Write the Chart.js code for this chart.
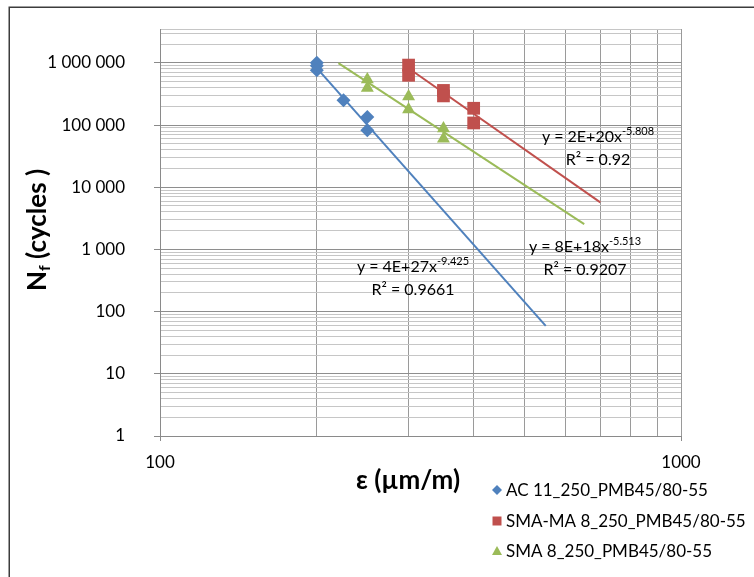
<!DOCTYPE html>
<html>
<head>
<meta charset="utf-8">
<script src="https://cdn.jsdelivr.net/npm/chart.js@4/dist/chart.umd.min.js"></script>
<style>
  html, body { margin: 0; padding: 0; background: #fff; }
  #wrap { width: 754px; height: 577px; position: relative; }
</style>
</head>
<body>
<div id="wrap"><canvas id="fatigueChart" width="754" height="577"></canvas></div>
<script>
// measured specimens: strain (µm/m) and cycles to failure
const acStrain = [200, 200, 200, 225, 250, 250];
const acCycles = [1000000, 900000, 760000, 250000, 135000, 82500];
const smaMaStrain = [300, 300, 350, 350, 400, 400];
const smaMaCycles = [920000, 630000, 360000, 294000, 186000, 108000];
const smaStrain = [250, 250, 300, 300, 350, 350];
const smaCycles = [540000, 395000, 288000, 178000, 88000, 60000];

// power trendlines (straight on log-log), end points
const acTrendStrain = [200, 550];
const acTrendCycles = [822000, 59];
const smaMaTrendStrain = [300, 700];
const smaMaTrendCycles = [820000, 5700];
const smaTrendStrain = [220, 652];
const smaTrendCycles = [990000, 2550];

const seriesNames = ['AC 11_250_PMB45/80-55', 'SMA-MA 8_250_PMB45/80-55', 'SMA 8_250_PMB45/80-55'];
const seriesColors = ['#4F81BD', '#C0504D', '#9BBB59'];
const seriesMarkers = ['rectRot', 'rect', 'triangle'];

const equations = [
  ['y = 2E+20x', '-5.808', 'R² = 0.92'],
  ['y = 8E+18x', '-5.513', 'R² = 0.9207'],
  ['y = 4E+27x', '-9.425', 'R² = 0.9661']
];

const xGridValues = [100, 200, 300, 400, 500, 600, 700, 800, 900, 1000];
const xTickLabels = ['100', '1000'];
const yTickValues = [1, 10, 100, 1000, 10000, 100000, 1000000];
const yTickLabels = ['1', '10', '100', '1 000', '10 000', '100 000', '1 000 000'];
const yMax = 3500000;

const toPoints = (xs, ys) => xs.map((x, i) => ({ x: x, y: ys[i] }));
const isPow10 = v => Math.abs(Math.log10(v) - Math.round(Math.log10(v))) < 1e-9;
const FONT = 'Lato, "Open Sans", sans-serif';

function trendSet(xs, ys, color) {
  return {
    data: toPoints(xs, ys), showLine: true, borderColor: color, borderWidth: 2,
    pointRadius: 0, pointHoverRadius: 0, fill: false, order: 2
  };
}
function markerSet(i, xs, ys, radius) {
  return {
    label: seriesNames[i], data: toPoints(xs, ys), showLine: false,
    pointStyle: seriesMarkers[i], pointRadius: radius, pointHoverRadius: radius,
    backgroundColor: seriesColors[i], borderColor: seriesColors[i], borderWidth: 0, order: 1
  };
}

const overlay = {
  id: 'overlay',
  afterDraw(chart) {
    const ctx = chart.ctx;
    ctx.save();
    // outer frame
    ctx.strokeStyle = '#3c3c3c';
    ctx.lineWidth = 1.5;
    ctx.strokeRect(9.25, 7.25, 800, 600);

    ctx.fillStyle = '#000';
    ctx.textBaseline = 'middle';

    // y axis title with subscript
    ctx.save();
    ctx.translate(38, 230);
    ctx.rotate(-Math.PI / 2);
    ctx.font = 'bold 26px ' + FONT;
    const wN = ctx.measureText('N').width;
    const rest = ' (cycles )';
    const wR = ctx.measureText(rest).width;
    ctx.font = 'bold 16px ' + FONT;
    const wF = ctx.measureText('f').width;
    let sx = -(wN + wF + wR) / 2;
    ctx.textAlign = 'left';
    ctx.font = 'bold 26px ' + FONT;
    ctx.fillText('N', sx, 0);
    ctx.font = 'bold 16px ' + FONT;
    ctx.fillText('f', sx + wN, 7);
    ctx.font = 'bold 26px ' + FONT;
    ctx.fillText(rest, sx + wN + wF, 0);
    ctx.restore();

    // x axis title
    ctx.font = 'bold 26px ' + FONT;
    ctx.textAlign = 'center';
    ctx.fillText('ε (µm/m)', 408, 481);

    // trendline equations
    const eqPos = [[598, 137, 160], [585, 247, 270], [413, 267, 290]];
    equations.forEach((eq, i) => {
      const [cx, y1, y2] = eqPos[i];
      ctx.font = '16px ' + FONT;
      const wm = ctx.measureText(eq[0]).width;
      ctx.font = '11px ' + FONT;
      const ws = ctx.measureText(eq[1]).width;
      const x0 = cx - (wm + ws) / 2;
      ctx.textAlign = 'left';
      ctx.font = '16px ' + FONT;
      ctx.fillText(eq[0], x0, y1);
      ctx.font = '11px ' + FONT;
      ctx.fillText(eq[1], x0 + wm, y1 - 6);
      ctx.font = '16px ' + FONT;
      ctx.textAlign = 'center';
      ctx.fillText(eq[2], cx, y2);
    });

    // legend
    const rows = [490, 521, 551];
    ctx.textAlign = 'left';
    ctx.font = '17px ' + FONT;
    seriesNames.forEach((name, i) => {
      const y = rows[i], mx = 497;
      ctx.fillStyle = seriesColors[i];
      ctx.beginPath();
      if (seriesMarkers[i] === 'rectRot') {
        ctx.moveTo(mx, y - 5); ctx.lineTo(mx + 5, y); ctx.lineTo(mx, y + 5); ctx.lineTo(mx - 5, y);
      } else if (seriesMarkers[i] === 'rect') {
        ctx.rect(mx - 4.5, y - 4.5, 9, 9);
      } else {
        ctx.moveTo(mx, y - 5); ctx.lineTo(mx + 5, y + 4); ctx.lineTo(mx - 5, y + 4);
      }
      ctx.closePath();
      ctx.fill();
      ctx.fillStyle = '#000';
      ctx.fillText(name, 506, y + 1);
    });
    ctx.restore();
  }
};

new Chart(document.getElementById('fatigueChart'), {
  type: 'scatter',
  data: {
    datasets: [
      markerSet(0, acStrain, acCycles, 7),
      markerSet(1, smaMaStrain, smaMaCycles, 9),
      markerSet(2, smaStrain, smaCycles, 7.5),
      trendSet(acTrendStrain, acTrendCycles, seriesColors[0]),
      trendSet(smaMaTrendStrain, smaMaTrendCycles, seriesColors[1]),
      trendSet(smaTrendStrain, smaTrendCycles, seriesColors[2])
    ]
  },
  options: {
    responsive: false,
    animation: false,
    layout: { padding: { top: 29, right: 73, left: 0, bottom: 0 } },
    plugins: { legend: { display: false }, tooltip: { enabled: false } },
    scales: {
      x: {
        type: 'logarithmic',
        min: 100,
        max: 1000,
        afterBuildTicks(scale) {
          scale.ticks = xGridValues.map(v => ({ value: v, major: isPow10(v) }));
        },
        afterFit(scale) { scale.height = 141; },
        ticks: {
          autoSkip: false, maxRotation: 0, minRotation: 0, padding: 11,
          color: '#000', font: { family: FONT, size: 17 },
          callback(value) {
            const i = [100, 1000].indexOf(value);
            return i >= 0 ? xTickLabels[i] : '';
          }
        },
        grid: {
          color: '#9a9a9a',
          tickLength: 5,
          tickColor: ctx => (ctx.tick && isPow10(ctx.tick.value) ? '#8a8a8a' : 'rgba(0,0,0,0)')
        },
        border: { color: '#8a8a8a' }
      },
      y: {
        type: 'logarithmic',
        min: 1,
        max: yMax,
        afterBuildTicks(scale) {
          const t = [];
          for (let e = 0; e <= 6; e++) {
            for (let m = 1; m <= 9; m++) {
              const v = m * Math.pow(10, e);
              if (v < yMax) t.push({ value: v, major: m === 1 });
            }
          }
          t.push({ value: yMax, major: false });
          scale.ticks = t;
        },
        afterFit(scale) {
          scale.width = 160;
          // tick padding would otherwise push the plot top down
          scale.paddingTop = 0;
          scale.paddingBottom = 0;
        },
        ticks: {
          autoSkip: false, padding: 29,
          color: '#000', font: { family: FONT, size: 17 },
          callback(value) {
            const i = yTickValues.indexOf(value);
            return i >= 0 ? yTickLabels[i] : '';
          }
        },
        grid: {
          color: ctx => (ctx.tick && isPow10(ctx.tick.value) ? '#8e8e8e' : '#c6c6c6'),
          tickLength: 6,
          tickColor: ctx => (ctx.tick && isPow10(ctx.tick.value) ? '#8a8a8a' : 'rgba(0,0,0,0)')
        },
        border: { color: '#8a8a8a' }
      }
    }
  },
  plugins: [overlay]
});
</script>
</body>
</html>
